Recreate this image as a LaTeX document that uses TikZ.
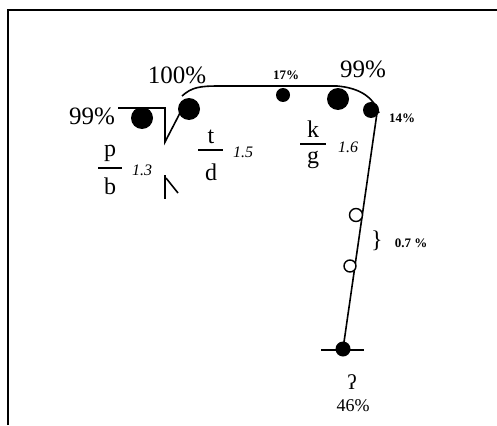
\documentclass[tikz,border=0pt]{standalone}
\usepackage{fontspec}
\setmainfont{Liberation Serif}
\begin{document}
\begin{tikzpicture}[x=1pt,y=-1pt,
  ln/.style={line width=1.6pt},
  big/.style={font=\fontsize{25}{26}\selectfont},
  sm/.style={font=\fontsize{13}{14}\selectfont\bfseries},
  it/.style={font=\fontsize{16}{17}\selectfont\itshape},
  frac/.style={font=\fontsize{24}{25}\selectfont},
  fdot/.style={circle,fill=black,inner sep=0pt},
  odot/.style={circle,draw=black,fill=white,line width=1.4pt,inner sep=0pt,minimum size=12pt}]
\useasboundingbox (0,0) rectangle (497,425);
% frame
\draw[line width=1.8pt] (8,425) -- (8,10) -- (497,10);
% top contour
\coordinate (a0) at (118,108);
\coordinate (a1) at (165,108);
\coordinate (a2) at (165,142);
\coordinate (a3) at (180,113);
\coordinate (c0) at (182,96);
\coordinate (c1) at (220,86);
\coordinate (c2) at (337,86);
\coordinate (c3) at (379,113);
\draw[ln] (a0) -- (a1) -- (a2) -- (a3);
\draw[ln] (c0) .. controls (192,87) and (200,86) .. (c1) -- (c2) .. controls (360,88) and (373,97) .. (c3);
% lower wedge
\coordinate (w0) at (165,175);
\coordinate (w1) at (165,199);
\coordinate (w2) at (178,193);
\draw[ln] (w0) -- (w1);
\draw[ln] (166,178) -- (w2);
% right line
\coordinate (r0) at (377,113);
\node[fdot,minimum size=15pt] (bot) at (343,349) {};
\draw[ln] (r0) -- (bot.center);
\coordinate (h0) at (321,350);
\coordinate (h1) at (364,350);
\draw[ln] (h0) -- (h1);
% dots
\node[fdot,minimum size=22pt] (d1) at (142,118) {};
\node[fdot,minimum size=22pt] (d2) at (189,109) {};
\node[fdot,minimum size=14pt] (d3) at (283,95) {};
\node[fdot,minimum size=22pt] (d4) at (338,99) {};
\node[fdot,minimum size=16pt] (d5) at (371,110) {};
\node[odot,minimum size=13pt] (o1) at (356,215) {};
\node[odot] (o2) at (350,266) {};
% labels
\node[big] (l99a) at (92,116) {99\%};
\node[big] (l100) at (177,75) {100\%};
\node[sm] (l17) at (286,75) {17\%};
\node[big] (l99b) at (363,69) {99\%};
\node[sm] (l14) at (402,118) {14\%};
\node[font=\fontsize{24}{24}\selectfont] (br) at (377,241) {\}};
\node[sm] (l07) at (411,243) {0.7 \%};
\node[font=\fontsize{21}{22}\selectfont] (gl) at (352,382) {ʔ};
\node[font=\fontsize{18}{19}\selectfont] (l46) at (353,406) {46\%};
% fractions
\node[frac] (p) at (110,153) {p};
\draw[line width=1.2pt] (98,168) -- (122,168);
\node[frac] (b) at (110,186) {b};
\node[it] (n13) at (142,170) {1.3};
\node[frac] (t) at (211,137) {t};
\draw[line width=1.2pt] (198,150) -- (223,150);
\node[frac] (d) at (211,172) {d};
\node[it] (n15) at (243,152) {1.5};
\node[frac] (k) at (313,129) {k};
\draw[line width=1.2pt] (300,144) -- (326,144);
\node[frac] (g) at (313,160) {g};
\node[it] (n16) at (348,147) {1.6};
\end{tikzpicture}
\end{document}
